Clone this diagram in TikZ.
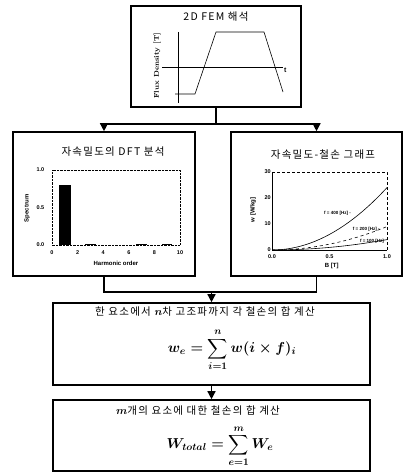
\documentclass[tikz,border=0pt]{standalone}
\usepackage{amsmath,amssymb}
\usepackage{fontspec}
\setsansfont{Liberation Sans}
\newfontfamily\kr[LetterSpace=12]{Noto Sans CJK KR}
\usetikzlibrary{arrows.meta,positioning}

\begin{document}
\begin{tikzpicture}[x=1pt, y=-1pt,
  box/.style={draw, rectangle, line width=1.6pt, inner sep=0pt},
  flow/.style={line width=1.4pt, -{Triangle[width=8pt,length=8pt]}},
  title/.style={font=\kr\fontsize{10.5}{12}\selectfont},
  formula/.style={font=\fontsize{14}{16}\selectfont\boldmath, inner sep=0pt},
  tick/.style={font=\sffamily\bfseries\fontsize{5.5}{6}\selectfont, inner sep=1pt},
  axislab/.style={font=\sffamily\bfseries\fontsize{6}{7}\selectfont, inner sep=1pt},
  curvelab/.style={font=\sffamily\bfseries\fontsize{4.5}{5}\selectfont, inner sep=0.5pt}]
	\useasboundingbox (0,0) rectangle (404,473);

	% boxes
	\node [box, minimum width=170pt, minimum height=101pt] (fem) at (216,56.5) {};
	\node [box, minimum width=182pt, minimum height=144pt] (dft) at (104,204) {};
	\node [box, minimum width=171pt, minimum height=144pt] (loss) at (316.5,204) {};
	\node [box, minimum width=317pt, minimum height=82pt] (sum1) at (211.5,344) {};
	\node [box, minimum width=317pt, minimum height=71pt] (sum2) at (211.5,435.5) {};

	% connectors
	\coordinate (split) at (216,124);
	\coordinate (merge) at (211.5,292);
	\draw [line width=1.4pt] (fem.south) -- (split);
	\draw [flow] (split) -| (dft.north);
	\draw [flow] (split) -| (loss.north);
	\draw [line width=1.4pt] (dft.south) |- (merge) -| (loss.south);
	\draw [flow] (merge) -- (sum1.north);
	\draw [flow] (sum1.south) -- (sum2.north);

	% titles
	\node [title] (femtitle) at (216,17) {2D FEM 해석};
	\node [title] (dfttitle) at (113,152) {자속밀도의 DFT 분석};
	\node [title] (losstitle) at (323,155) {자속밀도-철손 그래프};
	\node [title] (sum1title) at (205,312) {한 요소에서 $\boldsymbol{n}$차 고조파까지 각 철손의 합 계산};
	\node [title] (sum2title) at (198,411) {$\boldsymbol{m}$개의 요소에 대한 철손의 합 계산};

	% formulas
	\node [formula] (we) at (232,350) {$\displaystyle w_e = \sum_{i=1}^{n} w(i\times f)_i$};
	\node [formula] (wtot) at (220,446) {$\displaystyle W_{total} = \sum_{e=1}^{m} W_e$};

	% flux density waveform
	\draw [thin] (162,67) -- (283,67) node[below right, font=\sffamily\bfseries\fontsize{7}{8}\selectfont, inner sep=1pt] (tlab) {t};
	\draw [thin] (178,32) -- (178,103);
	\draw [semithick] (175,94) -- (195,94) -- (216,32) -- (264,32) -- (283,92);
	\node [rotate=90, font=\bfseries\fontsize{7}{8}\selectfont] (ylab) at (157,66) {Flux Density [T]};

	% DFT spectrum
	\begin{scope}[shift={(52,245)}, x=12.8pt, y=75pt]
		\draw [densely dotted, thin] (0,0) rectangle (10,1);
		\fill (0.55,0) rectangle (1.45,0.8);
		\fill (2.6,0) rectangle (3.4,0.012);
		\fill (6.6,0) rectangle (7.4,0.015);
		\fill (8.6,0) rectangle (9.4,0.01);
		\foreach \h in {0,2,...,10}
			\node [tick] at (\h,-0.1) {\h};
		\foreach \v in {0.0,0.5,1.0}
			\node [tick] at (-0.9,\v) {\v};
		\node [axislab] (hlab) at (5,-0.25) {Harmonic order};
		\node [axislab, rotate=90] (slab) at (-1.95,0.49) {Spectrum};
	\end{scope}

	% iron loss curves
	\begin{scope}[shift={(272,250)}, x=115pt, y=2.6pt]
		\draw [thin] (0,30) -- (0,0) -- (1,0);
		\draw [thin, densely dashed] (0,30) -- (1,30) -- (1,0);
		\draw [semithick] plot[domain=0:1, samples=25] (\x,{24*\x*\x});
		\draw [semithick, dashed] plot[domain=0:1, samples=25] (\x,{9*\x*\x});
		\draw [semithick] plot[domain=0:1, samples=25] (\x,{4*\x*\x});
		\foreach \v in {0,10,20,30}
			\node [tick, left] at (0,\v) {\v};
		\foreach \b in {0.0,0.5,1.0}
			\node [tick] at (\b,-2.7) {\b};
		\node [axislab] (blab) at (0.52,-6.2) {B [T]};
		\node [axislab, rotate=90] (wlab) at (-0.165,15.4) {w [W/kg]};
		\node [curvelab] (f400) at (0.57,14.2) {f = 400 [Hz] -};
		\node [curvelab] (f200) at (0.82,8) {f = 200 [Hz] -};
		\node [curvelab] (f100) at (0.87,3.5) {f = 100 [Hz]};
	\end{scope}

\end{tikzpicture}
\end{document}
